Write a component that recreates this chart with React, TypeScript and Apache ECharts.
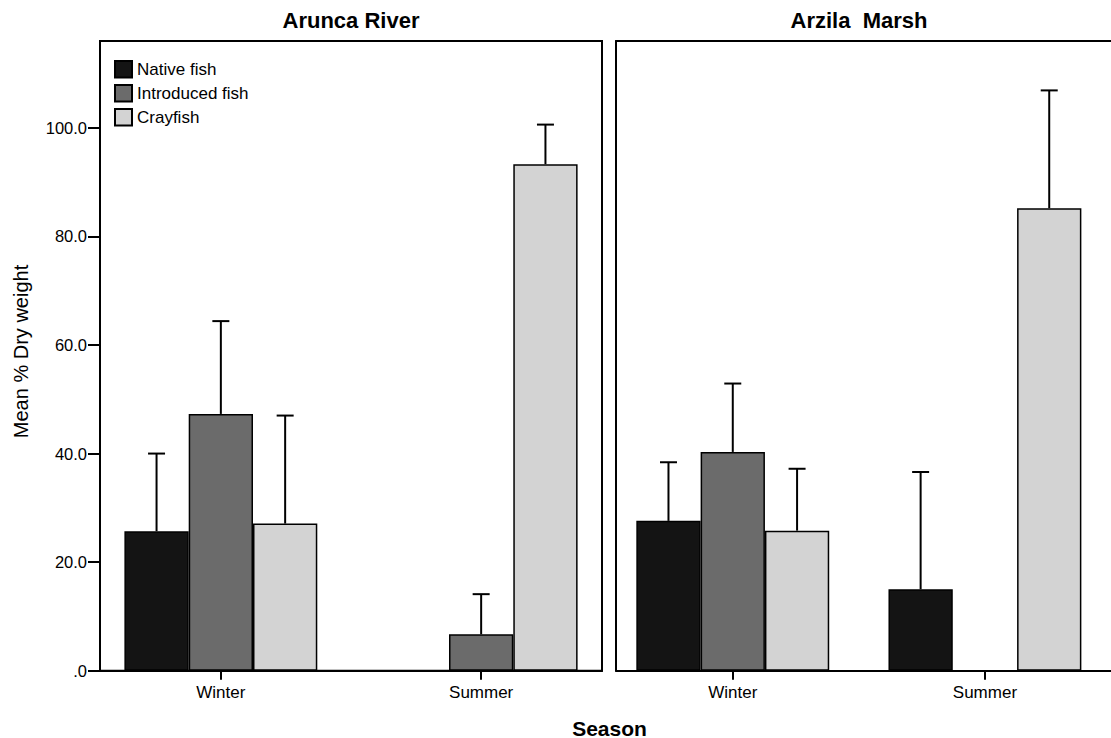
import React, { useEffect, useRef } from "react";
import * as echarts from "echarts";

const categories = ["Winter", "Summer"];
const seriesNames = ["Native fish", "Introduced fish", "Crayfish"];
const seriesColors = ["#141414", "#6b6b6b", "#d3d3d3"];
const yTickValues = [0, 20, 40, 60, 80, 100];

// Arunca River
const aruncaNative = [25.7, null];
const aruncaIntroduced = [47.3, 6.7];
const aruncaCrayfish = [27.1, 93.3];
const aruncaNativeUpper = [40.0, null];
const aruncaIntroducedUpper = [64.4, 14.1];
const aruncaCrayfishUpper = [47.0, 100.6];

// Arzila Marsh
const arzilaNative = [27.6, 15.0];
const arzilaIntroduced = [40.3, null];
const arzilaCrayfish = [25.8, 85.2];
const arzilaNativeUpper = [38.4, 36.6];
const arzilaIntroducedUpper = [52.9, null];
const arzilaCrayfishUpper = [37.2, 106.9];

const FONT = "'Liberation Sans', Arial, Helvetica, sans-serif";
const Y_MAX = 116;
const BAR_W = 64.3;
const TOP = 41;
const H = 629.7;

export default function App() {
  const ref = useRef<HTMLDivElement>(null);
  useEffect(() => {
    const chart = echarts.init(ref.current!, null, { renderer: "svg" });

    const panels = [
      {
        frameLeft: 100,
        frameWidth: 502,
        barLeft: 90.7,
        values: [aruncaNative, aruncaIntroduced, aruncaCrayfish],
        uppers: [aruncaNativeUpper, aruncaIntroducedUpper, aruncaCrayfishUpper],
        showY: true,
        box: true,
      },
      {
        frameLeft: 616,
        frameWidth: 520,
        barLeft: 606.7,
        values: [arzilaNative, arzilaIntroduced, arzilaCrayfish],
        uppers: [arzilaNativeUpper, arzilaIntroducedUpper, arzilaCrayfishUpper],
        showY: false,
        box: false,
      },
    ];

    const grid: any[] = [];
    const xAxis: any[] = [];
    const yAxis: any[] = [];
    const series: any[] = [];
    const lineStyle = { color: "#000", width: 2 };

    panels.forEach((p, pi) => {
      const frameIdx = pi * 2;
      const barIdx = pi * 2 + 1;
      grid.push({
        left: p.frameLeft,
        top: TOP,
        width: p.frameWidth,
        height: H,
        show: p.box,
        borderColor: "#000",
        borderWidth: 2,
        backgroundColor: "transparent",
      });
      grid.push({ left: p.barLeft, top: TOP, width: 520.6, height: H });

      // frame: bottom axis line
      xAxis.push({
        type: "category",
        gridIndex: frameIdx,
        data: categories,
        position: "bottom",
        axisLine: { show: true, lineStyle },
        axisTick: { show: false },
        axisLabel: { show: false },
      });
      xAxis.push({
        type: "category",
        gridIndex: barIdx,
        data: categories,
        axisLine: { show: false },
        axisTick: {
          show: true,
          alignWithLabel: true,
          length: 9,
          lineStyle,
        },
        axisLabel: { color: "#000", fontSize: 17, fontFamily: FONT, margin: 13 },
      });

      yAxis.push({
        type: "value",
        gridIndex: frameIdx,
        min: 0,
        max: Y_MAX,
        splitLine: { show: false },
        axisLine: { show: true, lineStyle },
        axisTick: {
          show: p.showY,
          length: 12,
          customValues: yTickValues,
          lineStyle,
        },
        axisLabel: {
          show: p.showY,
          customValues: yTickValues,
          color: "#000",
          fontSize: 16.5,
          fontFamily: FONT,
          margin: 13,
          formatter: (v: number) => (v === 0 ? ".0" : v.toFixed(1)),
        },
      });
      yAxis.push({
        type: "value",
        gridIndex: barIdx,
        min: 0,
        max: Y_MAX,
        show: false,
        splitLine: { show: false },
      });

      p.values.forEach((vals, si) => {
        series.push({
          type: "bar",
          name: seriesNames[si],
          xAxisIndex: barIdx,
          yAxisIndex: barIdx,
          data: vals,
          barWidth: BAR_W,
          barGap: "0%",
          itemStyle: { color: seriesColors[si], borderColor: "#000", borderWidth: 1.5 },
          z: 2,
        });
      });

      p.values.forEach((vals, si) => {
        const offset = (si - 1) * BAR_W;
        const data: any[] = [];
        vals.forEach((v, ci) => {
          const u = p.uppers[si][ci];
          if (v != null && u != null) data.push([ci, v, u]);
        });
        series.push({
          type: "custom",
          name: "err" + pi + si,
          xAxisIndex: barIdx,
          yAxisIndex: barIdx,
          data,
          encode: { x: 0, y: [1, 2] },
          z: 5,
          renderItem: (params: any, api: any) => {
            const ci = api.value(0);
            const base = api.coord([ci, api.value(1)]);
            const cap = api.coord([ci, api.value(2)]);
            const x = base[0] + offset;
            return {
              type: "group",
              children: [
                {
                  type: "line",
                  shape: { x1: x, y1: base[1], x2: x, y2: cap[1] },
                  style: { stroke: "#000", lineWidth: 2 },
                },
                {
                  type: "line",
                  shape: { x1: x - 8.5, y1: cap[1], x2: x + 8.5, y2: cap[1] },
                  style: { stroke: "#000", lineWidth: 2 },
                },
              ],
            };
          },
        });
      });
    });

    // top line of the right (cut-off) panel
    xAxis.push({
      type: "category",
      gridIndex: 2,
      data: categories,
      position: "top",
      axisLine: { show: true, lineStyle },
      axisTick: { show: false },
      axisLabel: { show: false },
    });

    chart.setOption({
      animation: false,
      backgroundColor: "#fff",
      grid,
      xAxis,
      yAxis,
      series,
      legend: {
        data: seriesNames,
        orient: "vertical",
        left: 114,
        top: 60,
        padding: 0,
        itemWidth: 17,
        itemHeight: 16.5,
        itemGap: 5.5,
        icon: "rect",
        selectedMode: false,
        textStyle: { color: "#000", fontSize: 17, fontFamily: FONT },
      },
      graphic: [
        {
          type: "text",
          x: 351,
          y: 20.5,
          style: {
            text: "Arunca River",
            fill: "#000",
            font: `bold 22px ${FONT}`,
            textAlign: "center",
            textVerticalAlign: "middle",
          },
        },
        {
          type: "text",
          x: 859,
          y: 20.5,
          style: {
            text: "Arzila  Marsh",
            fill: "#000",
            font: `bold 22px ${FONT}`,
            textAlign: "center",
            textVerticalAlign: "middle",
          },
        },
        {
          type: "text",
          x: 609.5,
          y: 728,
          style: {
            text: "Season",
            fill: "#000",
            font: `bold 21px ${FONT}`,
            textAlign: "center",
            textVerticalAlign: "middle",
          },
        },
        {
          type: "text",
          x: 21,
          y: 351.5,
          rotation: Math.PI / 2,
          style: {
            text: "Mean % Dry weight",
            fill: "#000",
            font: `20px ${FONT}`,
            textAlign: "center",
            textVerticalAlign: "middle",
          },
        },
      ],
    });
    return () => chart.dispose();
  }, []);
  return (
    <div
      ref={ref}
      style={{ position: "fixed", left: 0, top: 0, width: 1111, height: 738 }}
    />
  );
}
